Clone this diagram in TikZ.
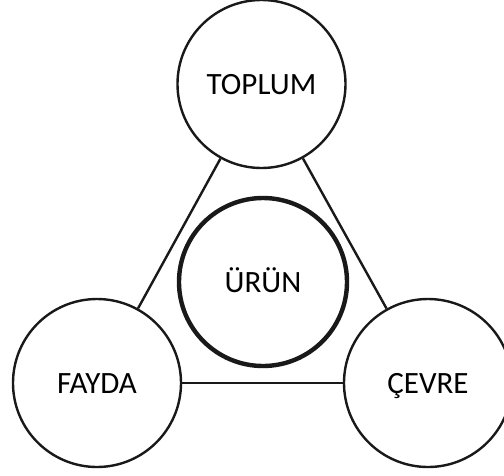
\documentclass[tikz,border=0pt]{standalone}
\usepackage{fontspec}
\setmainfont{Carlito}
\begin{document}
\begin{tikzpicture}[x=1pt,y=-1pt,
  ring/.style={circle,draw=black!90,line width=2.4pt,minimum size=168pt,inner sep=0pt,
    font=\fontsize{31}{31}\selectfont,text height=20pt,text depth=0pt},
  core/.style={ring,line width=4.4pt,minimum size=168pt},
  link/.style={draw=black!90,line width=2.4pt}]
\useasboundingbox (0,0) rectangle (504,475);
% outer circles
\node[ring] (toplum) at (261.5,84) {TOPLUM};
\node[ring] (fayda) at (97,383) {FAYDA};
\node[ring] (cevre) at (428,383) {ÇEVRE};
% central circle
\node[core] (urun) at (263,282) {ÜRÜN};
% triangle sides
\draw[link] (toplum) -- (fayda);
\draw[link] (toplum) -- (cevre);
\draw[link] (fayda) -- (cevre);
\end{tikzpicture}
\end{document}
